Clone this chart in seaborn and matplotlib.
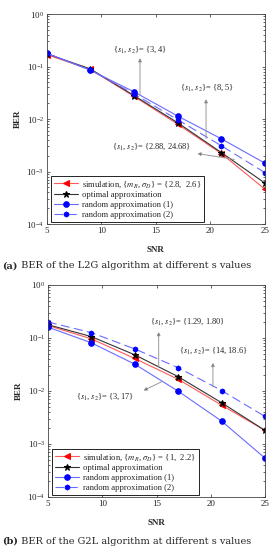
import numpy as np
import pandas as pd
import seaborn as sns
import matplotlib.pyplot as plt

sns.set_style("ticks")
plt.rcParams['font.family'] = ['Liberation Serif', 'DejaVu Serif']
plt.rcParams['mathtext.fontset'] = 'stix'

snr = [5, 9, 13, 17, 21, 25]

# (a) L2G algorithm
a_sim = [0.168, 0.088, 0.027, 0.0080, 0.0022, 0.00046]
a_opt = [0.175, 0.090, 0.028, 0.0085, 0.0023, 0.00060]
a_rnd1 = [0.180, 0.085, 0.033, 0.0114, 0.0042, 0.00144]
a_rnd2 = [0.178, 0.086, 0.030, 0.0097, 0.0031, 0.00095]

# (b) G2L algorithm
b_sim = [0.172, 0.096, 0.041, 0.0166, 0.0054, 0.0018]
b_opt = [0.178, 0.106, 0.048, 0.0186, 0.0060, 0.0018]
b_rnd1 = [0.160, 0.081, 0.032, 0.0099, 0.0027, 0.00054]
b_rnd2 = [0.200, 0.126, 0.062, 0.0275, 0.0102, 0.0033]

sim_labels = [r'simulation, {$m_R$, $\sigma_D$} = {2.8,  2.6}',
              r'simulation, {$m_R$, $\sigma_D$} = {1,  2.2}']
other_labels = ['optimal approximation', 'random approximation (1)',
                'random approximation (2)']
captions = ['(a)', '(b)']
caption_text = [' BER of the L2G algorithm at different s values',
                ' BER of the G2L algorithm at different s values']

# annotations: text, text pos, arrow head, arrow tail
notes_a = [(r'{$s_1$, $s_2$}= {3, 4}', (13.55, 0.21), (13.55, 0.145), (13.55, 0.029)),
           (r'{$s_1$, $s_2$}= {8, 5}', (19.7, 0.039), (19.6, 0.024), (19.6, 0.0042)),
           (r'{$s_1$, $s_2$}= {2.88, 24.68}', (14.65, 0.0029), (18.8, 0.0022), (22.2, 0.0017))]
notes_b = [(r'{$s_1$, $s_2$}= {1.29, 1.80}', (17.9, 0.2), (15.2, 0.13), (15.2, 0.029)),
           (r'{$s_1$, $s_2$}= {14, 18.6}', (20.2, 0.057), (20.2, 0.034), (20.2, 0.012)),
           (r'{$s_1$, $s_2$}= {3, 17}', (10.3, 0.0077), (13.8, 0.0102), (15.5, 0.015))]

fig = plt.figure(figsize=(2.77, 5.5), dpi=100)
ax_a = fig.add_axes([0.1686, 0.5927, 0.788, 0.3818])
ax_b = fig.add_axes([0.1733, 0.0964, 0.7834, 0.3855])

panels = [(ax_a, a_sim, a_opt, a_rnd1, a_rnd2, notes_a, 0),
          (ax_b, b_sim, b_opt, b_rnd1, b_rnd2, notes_b, 1)]

for ax, sim, opt, r1, r2, notes, i in panels:
    sns.lineplot(x=snr, y=sim, ax=ax, color='#ff5a5a', lw=0.8, marker='<',
                 markersize=3.8, markerfacecolor='red', markeredgecolor='red',
                 label=sim_labels[i])
    sns.lineplot(x=snr, y=opt, ax=ax, color='#333333', lw=0.8, marker='*',
                 markersize=4.8, markerfacecolor='black', markeredgecolor='black',
                 label=other_labels[0])
    sns.lineplot(x=snr, y=r1, ax=ax, color='#6b6bff', lw=0.8, marker='o',
                 markersize=4, markerfacecolor='blue', markeredgecolor='blue',
                 label=other_labels[1])
    sns.lineplot(x=snr, y=r2, ax=ax, color='#6b6bff', lw=0.8, marker='h',
                 markersize=3.6, markerfacecolor='blue', markeredgecolor='blue',
                 linestyle=(0, (8, 4)), label=other_labels[2])

    ax.set_yscale('log')
    ax.set_xlim(5, 25)
    ax.set_ylim(1e-4, 1)
    ax.set_xticks([5, 10, 15, 20, 25])
    ax.tick_params(which='both', direction='in', top=True, right=True,
                   labelsize=6.5, length=2.5, width=0.5, pad=2)
    ax.tick_params(which='minor', length=1.5)
    for s in ax.spines.values():
        s.set_linewidth(0.6)
        s.set_color('#444444')
    ax.set_xlabel('SNR', fontsize=6.5, fontweight='bold', labelpad=8)
    ax.set_ylabel('BER', fontsize=6.5, fontweight='bold', labelpad=3)

    for txt, tpos, head, tail in notes:
        ax.text(tpos[0], tpos[1], txt, fontsize=6, ha='center', va='center')
        ax.annotate('', xy=head, xytext=tail,
                    arrowprops=dict(arrowstyle='-|>', color='#999999', fc='#222222',
                                    lw=0.7, mutation_scale=5, shrinkA=0, shrinkB=0))

    leg = ax.legend(loc='lower left', bbox_to_anchor=(0.02, 0.01), borderaxespad=0,
                    fontsize=6.2, handlelength=2.8, handletextpad=0.4,
                    labelspacing=0.2, borderpad=0.35, fancybox=False, framealpha=1)
    leg.get_frame().set_edgecolor('black')
    leg.get_frame().set_linewidth(0.6)

for i, ypos in enumerate([1 - 266 / 550, 1 - 541 / 550]):
    t = fig.text(0.008, ypos, captions[i], fontsize=7, fontweight='bold',
                 ha='left', va='center', family=['DejaVu Serif'])
    fig.canvas.draw()
    bb = t.get_window_extent().transformed(fig.transFigure.inverted())
    fig.text(bb.x1, ypos, caption_text[i], fontsize=7, ha='left', va='center',
             family=['DejaVu Serif'])

fig.savefig('out.png', dpi=100)
